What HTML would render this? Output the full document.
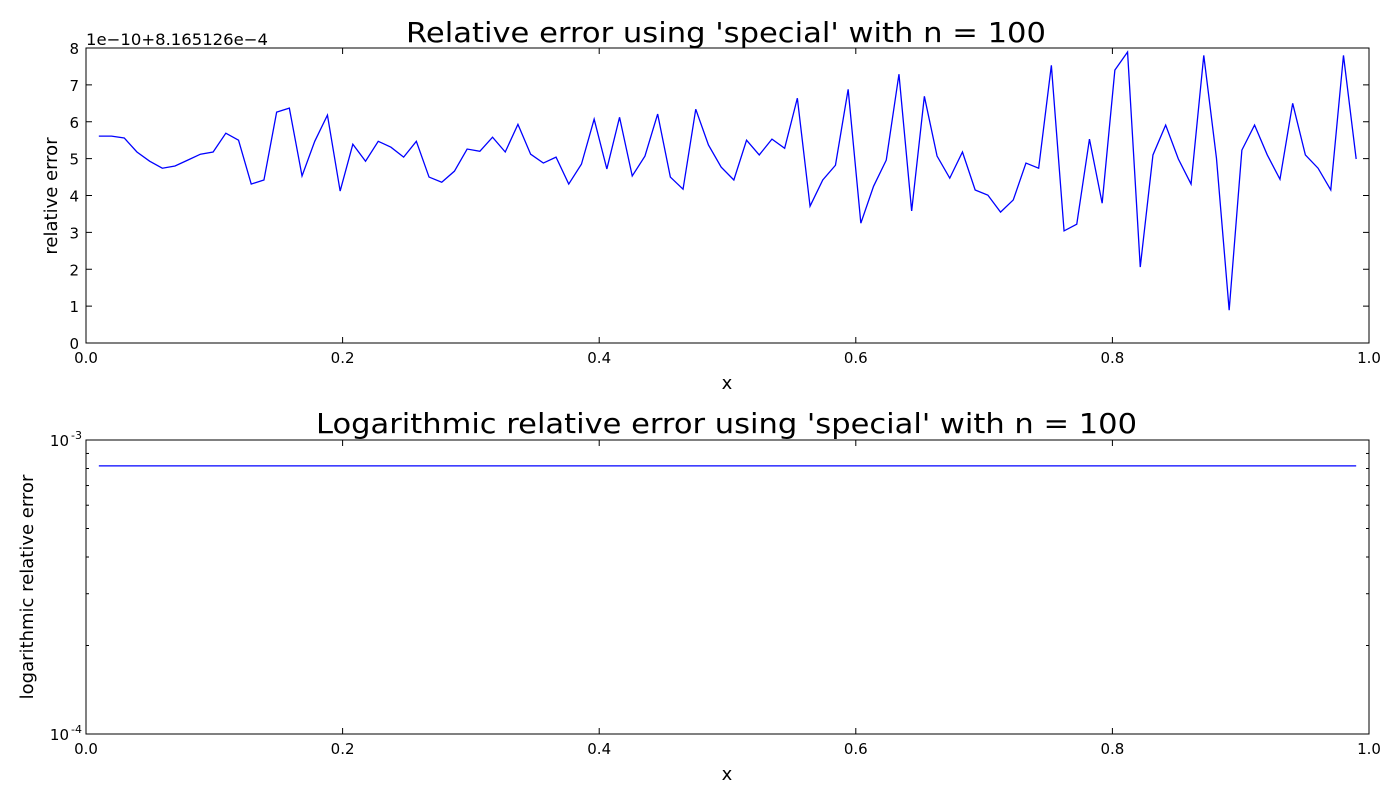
<!DOCTYPE html>
<html><head><meta charset="utf-8"><style>
html,body{margin:0;padding:0;background:#fff;}
svg{display:block;font-family:"DejaVu Sans","Liberation Sans",sans-serif;}
</style></head><body>
<svg id="chart" width="1400" height="800" viewBox="0 0 1400 800"></svg>
<script>
// Data for top chart (offset units of 1e-10 above 8.165126e-4)
const relErr = [5.61,5.61,5.56,5.18,4.93,4.74,4.80,4.96,5.12,5.18,5.69,5.50,4.31,4.42,6.26,6.37,4.53,5.47,6.18,4.12,
5.39,4.93,5.47,5.31,5.04,5.47,4.50,4.36,4.66,5.26,5.20,5.58,5.18,5.93,5.12,4.88,5.04,4.31,4.85,6.07,
4.72,6.12,4.53,5.07,6.21,4.50,4.17,6.34,5.37,4.77,4.42,5.50,5.10,5.53,5.28,6.64,3.71,4.42,4.82,6.88,
3.25,4.25,4.96,7.29,3.58,6.69,5.07,4.47,5.18,4.15,4.01,3.55,3.88,4.88,4.74,7.53,3.04,3.22,5.53,3.79,
7.40,7.89,2.06,5.10,5.91,4.99,4.31,7.80,5.01,0.89,5.23,5.91,5.10,4.44,6.50,5.10,4.74,4.15,7.80,4.99];
const offsetBase = 8.165126e-4;
const offsetScale = 1e-10;
const xStart = 0.01, xEnd = 0.99;
const xTicks = [0, 0.2, 0.4, 0.6, 0.8, 1.0];
const xTickLabels = ["0.0","0.2","0.4","0.6","0.8","1.0"];
const yTicksTop = [0,1,2,3,4,5,6,7,8];
const logMajor = [-4, -3];

const svg = document.getElementById('chart');
const NS = 'http://www.w3.org/2000/svg';
function mk(tag, attrs, parent){const e=document.createElementNS(NS,tag);for(const k in attrs)e.setAttribute(k,attrs[k]);(parent||svg).appendChild(e);return e;}

const L=86,R=1369;
const T1=48,B1=343,T2=440,B2=734;
const xs = v => L + (R-L)*v;
const y1 = v => B1 - (B1-T1)*v/8;
const y2 = v => B2 - (B2-T2)*(Math.log10(v)+4);
const n = relErr.length;
const xAt = i => xStart + (xEnd-xStart)*i/(n-1);

// ---------- Top axes ----------
const g1 = mk('g',{});


let t = mk('text',{x:406,y:42,'font-size':28,textLength:640,lengthAdjust:'spacingAndGlyphs',fill:'#000'},g1);
t.textContent="Relative error using 'special' with n = 100";
 
t = mk('text',{x:86,y:45,'font-size':16,textLength:182,lengthAdjust:'spacingAndGlyphs',fill:'#000'},g1);
t.textContent="1e\u221210+8.165126e\u22124";
 

let d='';
relErr.forEach((v,i)=>{d+=(i?'L':'M')+xs(xAt(i)).toFixed(2)+' '+y1(v).toFixed(2);});
let p = mk('path',{d:d,fill:'none',stroke:'#0000ff','stroke-width':1.3},g1);
 

yTicksTop.forEach(v=>{
  const y=y1(v);
  mk('line',{x1:L,x2:L+6,y1:y,y2:y,stroke:'#000'},g1);
  mk('line',{x1:R,x2:R-6,y1:y,y2:y,stroke:'#000'},g1);
  const tt=mk('text',{x:L-7,y:y+6,'font-size':15,'text-anchor':'end'},g1);
  tt.textContent=String(v);
   
});
xTicks.forEach((v,i)=>{
  const x=xs(v);
  mk('line',{x1:x,x2:x,y1:B1,y2:B1-6,stroke:'#000'},g1);
  mk('line',{x1:x,x2:x,y1:T1,y2:T1+6,stroke:'#000'},g1);
  const tt=mk('text',{x:x,y:B1+20,'font-size':15,'text-anchor':'middle'},g1);
  tt.textContent=xTickLabels[i];
   
});
let r=mk('rect',{x:L,y:T1,width:R-L,height:B1-T1,fill:'none',stroke:'#000','stroke-width':1},g1);
 
t=mk('text',{x:727,y:389,'font-size':18,'text-anchor':'middle'},g1); t.textContent='x';
 
t=mk('text',{x:0,y:0,'font-size':18,'text-anchor':'middle',transform:'translate(57,196) rotate(-90)'},g1); t.textContent='relative error';
 

// ---------- Bottom axes ----------
const g2 = mk('g',{});


t = mk('text',{x:316,y:433,'font-size':28,textLength:821,lengthAdjust:'spacingAndGlyphs'},g2);
t.textContent="Logarithmic relative error using 'special' with n = 100";
 

d='';
relErr.forEach((v,i)=>{d+=(i?'L':'M')+xs(xAt(i)).toFixed(2)+' '+y2(offsetBase+v*offsetScale).toFixed(2);});
p = mk('path',{d:d,fill:'none',stroke:'#0000ff','stroke-width':1.3},g2);
 

for(let k=2;k<=9;k++){
  const y=y2(k*1e-4);
  mk('line',{x1:L,x2:L+3,y1:y,y2:y,stroke:'#000'},g2);
  mk('line',{x1:R,x2:R-3,y1:y,y2:y,stroke:'#000'},g2);
}
logMajor.forEach(e=>{
  const y=y2(Math.pow(10,e));
  mk('line',{x1:L,x2:L+6,y1:y,y2:y,stroke:'#000'},g2);
  mk('line',{x1:R,x2:R-6,y1:y,y2:y,stroke:'#000'},g2);
  const tt=mk('text',{x:L-17,y:y+6,'font-size':15,'text-anchor':'end'},g2);
  tt.textContent='10';
   
  const sup=mk('text',{x:L-4,y:y-1,'font-size':11,'text-anchor':'end'},g2);
  sup.textContent='-'+Math.abs(e);
   
});
xTicks.forEach((v,i)=>{
  const x=xs(v);
  mk('line',{x1:x,x2:x,y1:B2,y2:B2-6,stroke:'#000'},g2);
  mk('line',{x1:x,x2:x,y1:T2,y2:T2+6,stroke:'#000'},g2);
  const tt=mk('text',{x:x,y:B2+20,'font-size':15,'text-anchor':'middle'},g2);
  tt.textContent=xTickLabels[i];
   
});
r=mk('rect',{x:L,y:T2,width:R-L,height:B2-T2,fill:'none',stroke:'#000','stroke-width':1},g2);
 
t=mk('text',{x:727,y:780,'font-size':18,'text-anchor':'middle'},g2); t.textContent='x';
 
t=mk('text',{x:0,y:0,'font-size':18,'text-anchor':'middle',transform:'translate(33,587) rotate(-90)'},g2); t.textContent='logarithmic relative error';
 
</script>
</body></html>
